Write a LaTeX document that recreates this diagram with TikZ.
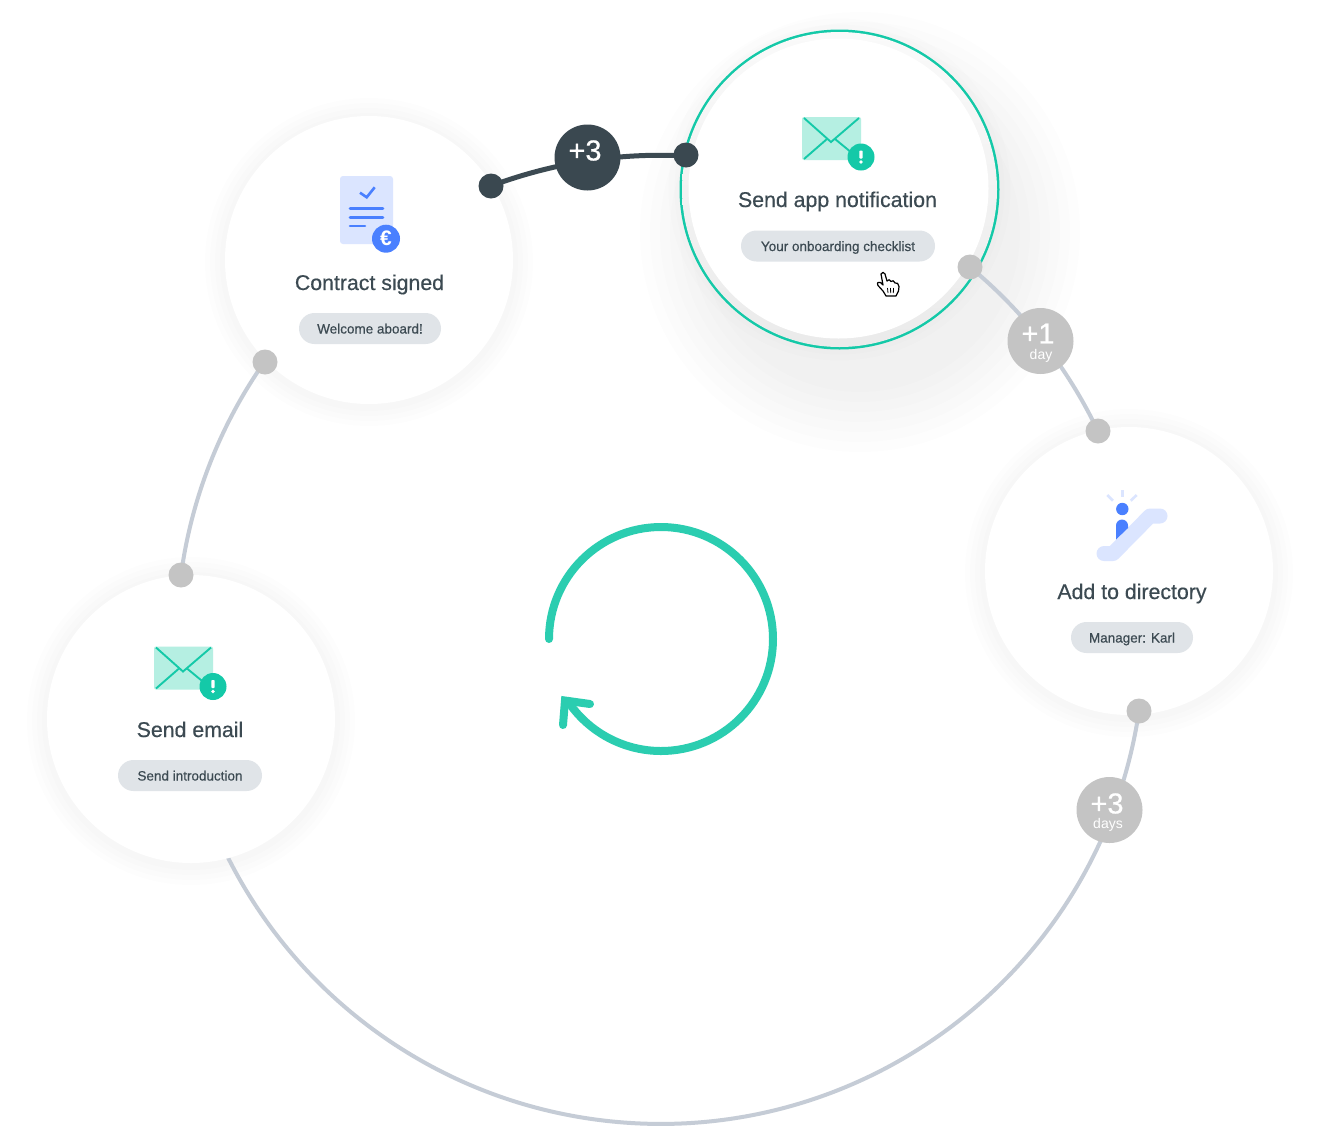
\documentclass[tikz,border=0pt]{standalone}
\usepackage{fontspec}
\setmainfont{Liberation Sans}
\newfontfamily\medfont[FakeBold=0.5]{Liberation Sans}
\pgfdeclarelayer{shadowlayer}
\pgfdeclarelayer{nodelayer}
\pgfsetlayers{shadowlayer,main,nodelayer}
\definecolor{ink}{HTML}{3C4A52}
\definecolor{darkbadge}{HTML}{3A4850}
\definecolor{conn}{HTML}{C5CCD6}
\definecolor{dotgrey}{HTML}{C4C4C4}
\definecolor{pillgrey}{HTML}{E0E4E8}
\definecolor{teal}{HTML}{14C9A8}
\definecolor{tealarrow}{HTML}{2BCDB0}
\definecolor{tealsoft}{HTML}{B5EFE2}
\definecolor{blueicon}{HTML}{4A80FF}
\definecolor{bluesoft}{HTML}{DBE5FF}
\tikzset{
  card/.style={circle,fill=white,minimum size=288pt,inner sep=0pt},
  dotg/.style={circle,fill=dotgrey,minimum size=25pt,inner sep=0pt},
  dotd/.style={circle,fill=darkbadge,minimum size=25pt,inner sep=0pt},
  badgeg/.style={circle,fill=dotgrey,minimum size=66pt,inner sep=0pt},
  badged/.style={circle,fill=darkbadge,minimum size=66pt,inner sep=0pt},
  title/.style={anchor=base,text=ink,font=\fontsize{21.3}{24}\medfont,inner sep=0pt},
  pill/.style={fill=pillgrey,rounded corners=15.5pt,minimum height=31pt,inner sep=0pt,text=ink,
    font=\fontsize{13.5}{16}\medfont,text height=13pt,text depth=3pt},
  bignum/.style={text=white,inner sep=0pt,font=\fontsize{29}{30}\medfont},
  smallnum/.style={text=white,inner sep=0pt,font=\fontsize{14}{16}\selectfont},
  connline/.style={draw=conn,line width=4pt},
  darkline/.style={draw=ink,line width=5pt},
}
\newcommand{\softshadow}[3]{%
  \foreach \i in {1,...,4}{\fill[black,opacity=.008] (#1,#2) circle[radius=#3+5*\i];}}
\newcommand{\envicon}[2]{%
  \begin{scope}[shift={(#1,#2)}]
    \fill[tealsoft,rounded corners=2pt] (802,117) rectangle (861,160);
    \draw[teal,line width=1.9pt] (804,118) -- (831,142) -- (859,118);
    \draw[teal,line width=1.9pt] (804,159) -- (827,139);
    \draw[teal,line width=1.9pt] (835,139) -- (852,153);
    \fill[teal] (861,157) circle[radius=13.5];
    \fill[white,rounded corners=.8pt] (859.4,150.5) rectangle (862.6,158.5);
    \fill[white] (861,162) circle[radius=1.8];
  \end{scope}}
\begin{document}
\begin{tikzpicture}[x=1pt,y=-1pt]
\useasboundingbox (0,0) rectangle (1328,1144);

\begin{pgfonlayer}{shadowlayer}
  \fill[white] (0,0) rectangle (1328,1144);
  \softshadow{369}{262}{144}
  \softshadow{1129}{573}{144}
  \softshadow{191}{721}{144}
  \foreach \i in {1,...,2}{\fill[black,opacity=.008] (839.5,189.5) circle[radius=159+6*\i];}
  \foreach \i in {1,...,7}{\fill[black,opacity=.008] (860,232) circle[radius=150+10*\i];}
\end{pgfonlayer}

\begin{pgfonlayer}{nodelayer}
  % cards
  \node[card] (contract) at (369,260) {};
  \node[circle,fill=white,draw=teal,line width=3pt,minimum size=317pt,inner sep=0pt] (notif) at (839.5,189.5) {};
  \shade[top color=black!2,bottom color=black!8] (839.5,189.5) circle[radius=157.5];
  \fill[white] (838.5,188.5) circle[radius=150];
  \node[card] (directory) at (1129,571) {};
  \node[card] (email) at (191,719) {};

  % contract icon
  \fill[bluesoft,rounded corners=3pt] (340,176) rectangle (393,244);
  \draw[blueicon,line width=2.6pt] (360,192.7) -- (366.7,197.3) -- (374.7,187.3);
  \draw[blueicon,line width=2.6pt,line cap=round] (350,208.7) -- (383,208.7);
  \draw[blueicon,line width=2.6pt,line cap=round] (350,217.3) -- (383,217.3);
  \draw[blueicon,line width=2.6pt,line cap=round] (350,226) -- (365,226);
  \node[circle,fill=blueicon,minimum size=28pt,inner sep=0pt,text=white,font=\fontsize{21}{22}\selectfont\bfseries] (euro) at (386,238.7) {€};

  % envelopes
  \envicon{0}{0}
  \envicon{-648}{529.5}

  % escalator icon
  \draw[bluesoft,line width=2.6pt] (1122.3,490) -- (1122.3,497);
  \draw[bluesoft,line width=2.6pt] (1107.3,495) -- (1113,500.7);
  \draw[bluesoft,line width=2.6pt] (1136.7,495) -- (1130.7,500.7);
  \draw[bluesoft,line width=15pt,line cap=round,line join=round] (1104,553.5) -- (1113,553.5) -- (1150,516) -- (1160,516);
  \fill[blueicon] (1122.3,509) circle[radius=6.2];
  \fill[blueicon] (1116,539.5) -- (1116,525.5) arc[start angle=180,end angle=360,radius=6] -- (1128,528) -- cycle;

  % hand cursor
  \draw[fill=white,draw=black,line width=1.2pt,line join=round]
    (881,274) .. controls (881.5,271.8) and (884.5,271.8) .. (885,274)
    -- (887,281) .. controls (888,279) and (890.5,279.5) .. (891,281.5)
    .. controls (892,280) and (894.5,280.5) .. (895,283)
    .. controls (896.5,282.2) and (899,283.5) .. (899,286.5)
    -- (898.5,291) -- (896,296) -- (886,296) -- (883,291) -- (878,285.5)
    .. controls (876.5,283) and (878.5,281) .. (880.5,282.5)
    -- (883,285) -- cycle;
  \draw[black,line width=.8pt] (887.5,288) -- (888,293) (890.5,288) -- (890.7,293) (893.5,288) -- (893.3,293);

  % text
  \node[title] (t1) at (369.5,290) {Contract signed};
  \node[pill,minimum width=142pt] (p1) at (370,328.5) {Welcome aboard!};
  \node[title] (t2) at (837.5,207) {Send app notification};
  \node[pill,minimum width=194pt] (p2) at (838,246) {Your onboarding checklist};
  \node[title] (t3) at (1132,599) {Add to directory};
  \node[pill,minimum width=122pt] (p3) at (1132,637.5) {Manager: Karl};
  \node[title] (t4) at (190,737) {Send email};
  \node[pill,minimum width=144pt] (p4) at (190,775.5) {Send introduction};

  % dots
  \node[dotg] (d1) at (181,575) {};
  \node[dotg] (d2) at (265,362) {};
  \node[dotd] (d3) at (491,186) {};
  \node[dotd] (d4) at (686,155) {};
  \node[dotg] (d5) at (970,267) {};
  \node[dotg] (d6) at (1098,431) {};
  \node[dotg] (d7) at (1139,711) {};

  % badges
  \node[badged] (b1) at (587.5,157.5) {};
  \node[bignum] (b1t) at (585,150.5) {+3};
  \node[badgeg] (b2) at (1040.5,341) {};
  \node[bignum] (b2t) at (1038,333.5) {+1};
  \node[smallnum] (b2s) at (1041,355.5) {day};
  \node[badgeg] (b3) at (1109.5,810) {};
  \node[bignum] (b3t) at (1107,803.5) {+3};
  \node[smallnum] (b3s) at (1108,824.5) {days};
\end{pgfonlayer}

% connectors: all lie on one circle about (661,640)
\draw[connline] (d1.center) arc[start angle=187.71,end angle=215.07,radius=484];
\draw[darkline] (d3.center) arc[start angle=249.47,end angle=272.95,radius=484];
\draw[connline] (d5.center) arc[start angle=309.64,end angle=334.44,radius=484];
\draw[connline] (d7.center) arc[start angle=8.45,end angle=156,radius=484];

% central loop arrow
\draw[tealarrow,line width=8pt,line cap=round] (549,639) arc[start angle=180,end angle=503,radius=112];
\draw[tealarrow,line width=8pt,line cap=round,line join=miter] (590,704) -- (565,700.5) -- (563,725);
\end{tikzpicture}
\end{document}
